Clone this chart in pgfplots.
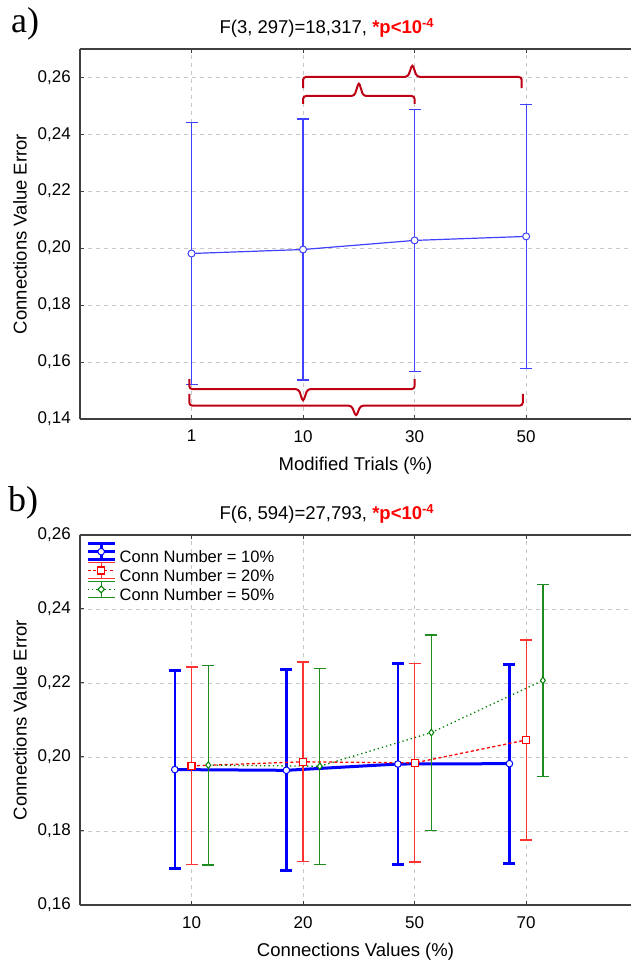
\documentclass[border=0pt]{standalone}
\usepackage{fontspec}
\setmainfont{Liberation Sans}
\newfontfamily\panelfont{Liberation Serif}
\usepackage{pgfplots}
\pgfplotsset{compat=1.18}

\definecolor{axisgray}{RGB}{64,64,64}
\definecolor{gridgray}{RGB}{200,200,200}
\definecolor{bluea}{RGB}{64,64,255}
\definecolor{blueb}{RGB}{0,0,255}
\definecolor{redb}{RGB}{255,0,0}
\definecolor{redbar}{RGB}{255,50,50}
\definecolor{greenb}{RGB}{0,128,0}
\definecolor{greenbar}{RGB}{30,140,30}
\definecolor{bracered}{RGB}{190,0,20}

% panel a: mean and half-width of the whiskers
\pgfplotstableread{
x y e
0 0.1981 0.0461
1 0.1995 0.0458
2 0.2027 0.0460
3 0.2041 0.0463
}\trials

% panel b, one table per Conn Number
\pgfplotstableread{
x y e
-0.15 0.1966 0.0268
0.85 0.1964 0.0272
1.85 0.1981 0.0271
2.85 0.1982 0.0269
}\connten
\pgfplotstableread{
x y e
0 0.1976 0.0267
1 0.1987 0.0270
2 0.1984 0.0268
3 0.2046 0.0270
}\conntwenty
\pgfplotstableread{
x y e
0.15 0.1978 0.0270
1.15 0.1975 0.0265
2.15 0.2066 0.0264
3.15 0.2207 0.0260
}\connfifty

\pgfplotsset{
  statbase/.style={
    width=551pt, height=370pt, scale only axis,
    xmin=-1, xmax=3.94,
    axis x line=box, axis y line=left,
    axis line style={-, draw=axisgray, line width=1.3pt},
    grid=major,
    grid style={gridgray, line width=0.9pt, dash pattern=on 4pt off 4pt},
    tick style={draw=axisgray, line width=1pt},
    major tick length=4pt, tick align=inside,
    xtick={0,1,2,3},
    /pgf/number format/assume math mode=true,
    /pgf/number format/fixed, /pgf/number format/fixed zerofill,
    /pgf/number format/precision=2, /pgf/number format/use comma,
    tick label style={font=\fontsize{17}{20}\selectfont, inner sep=0pt},
    xticklabel style={yshift=-11pt},
    yticklabel style={xshift=-9pt},
    label style={font=\fontsize{18.5}{22}\selectfont},
    xlabel style={at={(axis description cs:0.5,-0.125)}, anchor=center},
    ylabel style={at={(axis description cs:-0.109,0.5)}, anchor=center},
    title style={at={(axis description cs:0.448,1.04)}, anchor=center,
      font=\fontsize{18.5}{22}\selectfont},
    ylabel={Connections Value Error},
  },
}
% square-cornered brace with a narrow spike, as in the reference
\tikzset{sigbrace/.style={bracered, line width=2pt, rounded corners=3pt}}

\begin{document}
\begin{tikzpicture}

% ---- panel a ----
\begin{axis}[statbase,
  at={(80pt,545pt)}, anchor=south west,
  ymin=0.14, ymax=0.2699,
  ytick={0.14,0.16,0.18,0.20,0.22,0.24,0.26},
  xticklabels={1,10,30,50},
  xlabel={Modified Trials (\%)},
  title={F(3, 297)=18,317, \textcolor{red}{\textbf{*p<10\textsuperscript{-4}}}},
]
\addplot[draw=bluea, line width=1.2pt, mark=*, mark size=3.5pt,
  mark options={fill=white, draw=bluea, line width=1pt},
  error bars/.cd, y dir=both, y explicit,
  error bar style={line width=1.2pt, draw=bluea},
  error mark options={rotate=90, draw=bluea, line width=1.2pt, mark size=6pt}]
  table[x=x, y=y, y error=e] {\trials};

% significance braces
\draw[sigbrace] (axis cs:1,0.2562) -- (axis cs:1,0.2601) -- (axis cs:1.94,0.2601)
  -- (axis cs:1.98,0.2646) -- (axis cs:2.02,0.2601) -- (axis cs:2.96,0.2601)
  -- (axis cs:2.96,0.2562);
\draw[sigbrace] (axis cs:1,0.2506) -- (axis cs:1,0.2534) -- (axis cs:1.46,0.2534)
  -- (axis cs:1.5,0.2583) -- (axis cs:1.54,0.2534) -- (axis cs:2,0.2534)
  -- (axis cs:2,0.2506);
\draw[sigbrace] (axis cs:-0.02,0.1540) -- (axis cs:-0.02,0.1505) -- (axis cs:0.96,0.1505)
  -- (axis cs:1,0.1460) -- (axis cs:1.04,0.1505) -- (axis cs:2,0.1505)
  -- (axis cs:2,0.1540);
\draw[sigbrace] (axis cs:-0.02,0.1488) -- (axis cs:-0.02,0.1447) -- (axis cs:1.435,0.1447)
  -- (axis cs:1.475,0.1408) -- (axis cs:1.515,0.1447) -- (axis cs:2.97,0.1447)
  -- (axis cs:2.97,0.1488);
\end{axis}

% ---- panel b ----
\begin{axis}[statbase,
  at={(80pt,59pt)}, anchor=south west,
  ymin=0.16, ymax=0.26,
  ytick={0.16,0.18,0.20,0.22,0.24,0.26},
  xticklabels={10,20,50,70},
  xlabel={Connections Values (\%)},
  title={F(6, 594)=27,793, \textcolor{red}{\textbf{*p<10\textsuperscript{-4}}}},
  legend style={at={(axis description cs:0,1)}, anchor=north west,
    xshift=3pt, yshift=-5pt, draw=none, fill=none,
    font=\fontsize{16.5}{19}\selectfont, row sep=-2pt,
    nodes={inner ysep=0pt, inner xsep=3.5pt}},
  legend cell align=left,
]
\addplot[draw=blueb, line width=3pt, mark=*, mark size=3.3pt,
  mark options={fill=white, draw=blueb, line width=1pt, solid},
  legend image code/.code={
    \draw[line width=3pt, solid] (0pt,-2.5pt) -- (27pt,-2.5pt)
      (0pt,13.5pt) -- (27pt,13.5pt) (13.5pt,-2.5pt) -- (13.5pt,13.5pt)
      (0pt,5.5pt) -- (27pt,5.5pt);
    \draw[line width=1pt, fill=white] (13.5pt,5.5pt) circle (3.3pt);},
  error bars/.cd, y dir=both, y explicit,
  error bar style={line width=2.5pt, draw=blueb},
  error mark options={rotate=90, draw=blueb, line width=3pt, mark size=6pt}]
  table[x=x, y=y, y error=e] {\connten};
\addlegendentry{Conn Number = 10\%}

\addplot[draw=redb, line width=1.3pt, dash pattern=on 3pt off 2.5pt,
  mark=square*, mark size=3.5pt,
  mark options={fill=white, draw=redb, line width=1.2pt, solid},
  legend image code/.code={
    \draw[line width=1.3pt, solid, redbar] (0pt,-2.5pt) -- (27pt,-2.5pt)
      (0pt,13.5pt) -- (27pt,13.5pt) (13.5pt,-2.5pt) -- (13.5pt,13.5pt);
    \draw[line width=1.3pt] (0pt,5.5pt) -- (27pt,5.5pt);
    \draw[line width=1.2pt, solid, fill=white] (10pt,2pt) rectangle (17pt,9pt);},
  error bars/.cd, y dir=both, y explicit,
  error bar style={line width=1.3pt, draw=redbar, solid},
  error mark options={rotate=90, draw=redbar, line width=1.3pt, mark size=6pt, solid}]
  table[x=x, y=y, y error=e] {\conntwenty};
\addlegendentry{Conn Number = 20\%}

\addplot[draw=greenb, line width=1.3pt, dash pattern=on 1.3pt off 3pt,
  mark=diamond*, mark size=3.3pt,
  mark options={fill=white, draw=greenb, line width=1pt, solid},
  legend image code/.code={
    \draw[line width=1.3pt, solid, greenbar] (0pt,-2.5pt) -- (27pt,-2.5pt)
      (0pt,13.5pt) -- (27pt,13.5pt) (13.5pt,-2.5pt) -- (13.5pt,13.5pt);
    \draw[line width=1.3pt] (0pt,5.5pt) -- (27pt,5.5pt);
    \draw[line width=1pt, solid, fill=white] (13.5pt,2.2pt) -- (16.8pt,5.5pt)
      -- (13.5pt,8.8pt) -- (10.2pt,5.5pt) -- cycle;},
  error bars/.cd, y dir=both, y explicit,
  error bar style={line width=1.3pt, draw=greenbar, solid},
  error mark options={rotate=90, draw=greenbar, line width=1.3pt, mark size=6pt, solid}]
  table[x=x, y=y, y error=e] {\connfifty};
\addlegendentry{Conn Number = 50\%}
\end{axis}

\node[font=\panelfont\fontsize{36}{40}\selectfont] at (25pt,940pt) {a)};
\node[font=\panelfont\fontsize{36}{40}\selectfont] at (23pt,461pt) {b)};

\pgfresetboundingbox
\path[use as bounding box] (0pt,0pt) rectangle (631pt,964pt);
\end{tikzpicture}
\end{document}
